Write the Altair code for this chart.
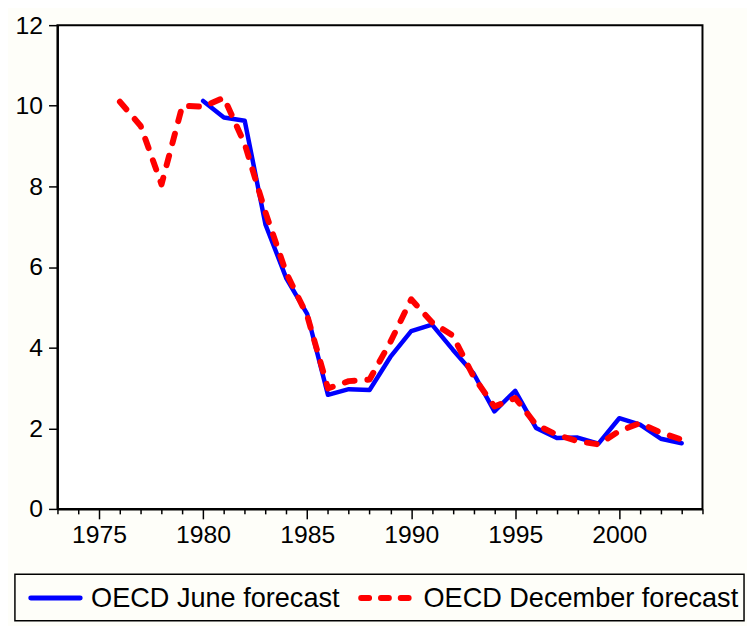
import altair as alt
import pandas as pd

years_june = list(range(1980, 2004))
june = [10.12, 9.71, 9.63, 7.05, 5.72, 4.84, 2.83, 2.97, 2.95, 3.77, 4.41, 4.57,
        3.95, 3.36, 2.42, 2.93, 2.01, 1.76, 1.77, 1.62, 2.25, 2.09, 1.74, 1.63]

years_dec = list(range(1976, 2004))
dec = [10.1, 9.5, 8.05, 10.0, 9.98, 10.2, 9.05, 7.35, 5.85, 4.8, 2.99, 3.17,
       3.21, 4.14, 5.2, 4.63, 4.3, 3.28, 2.54, 2.75, 2.09, 1.84, 1.68, 1.60,
       1.93, 2.13, 1.89, 1.72]

series = ["OECD June forecast", "OECD December forecast"]
colors = ["#0000FF", "#FF0000"]
x_ticks = list(range(1973, 2005))
y_ticks = [0, 2, 4, 6, 8, 10, 12]

df = pd.concat([
    pd.DataFrame({"year": years_june, "value": june, "series": series[0]}),
    pd.DataFrame({"year": years_dec, "value": dec, "series": series[1]}),
])

FONT = "Liberation Sans"

x_enc = alt.X(
    "year:Q",
    scale=alt.Scale(domain=[1973, 2004], nice=False, zero=False),
    axis=alt.Axis(
        title=None, values=x_ticks, format="d",
        labelExpr="datum.value % 5 === 0 ? datum.label : ''",
        tickSize={"condition": {"test": "datum.value % 5 === 0", "value": 10}, "value": 5},
        labelFontSize=25, labelFont=FONT, labelColor="black", labelPadding=4,
        tickColor="black", tickWidth=1.5, domainColor="black", domainWidth=2,
        grid=False, labelFlush=False, labelOverlap=False,
    ),
)
y_enc = alt.Y(
    "value:Q",
    scale=alt.Scale(domain=[0, 12], nice=False),
    axis=alt.Axis(
        title=None, values=y_ticks, tickSize=9, labelPadding=6,
        labelFontSize=25, labelFont=FONT, labelColor="black",
        tickColor="black", tickWidth=1.5, domainColor="black", domainWidth=2,
        grid=False, labelFlush=False,
    ),
)
color_enc = alt.Color("series:N", scale=alt.Scale(domain=series, range=colors), legend=None)

base = alt.Chart(df).encode(x=x_enc, y=y_enc, color=color_enc)

june_line = base.transform_filter(alt.datum.series == series[0]).mark_line(
    strokeWidth=4.5, strokeCap="round", strokeJoin="round")
dec_line = base.transform_filter(alt.datum.series == series[1]).mark_line(
    strokeWidth=6, strokeCap="round", strokeJoin="round", strokeDash=[10, 13])

# legend (drawn below the plot area)
leg_df = pd.DataFrame({"series": series})
leg_box = alt.Chart(leg_df.head(1)).mark_rect(
    filled=False, stroke="black", strokeWidth=1.5
).encode(x=alt.value(-43), x2=alt.value(694), y=alt.value(555), y2=alt.value(602))
leg_june = alt.Chart(leg_df.head(1)).mark_rule(
    color=colors[0], strokeWidth=5, strokeCap="round"
).encode(x=alt.value(-27), x2=alt.value(23), y=alt.value(579))
leg_dec = alt.Chart(leg_df.head(1)).mark_rule(
    color=colors[1], strokeWidth=6, strokeCap="round", strokeDash=[8, 12]
).encode(x=alt.value(307), x2=alt.value(357), y=alt.value(579))
leg_t1 = alt.Chart(leg_df.head(1)).mark_text(
    align="left", baseline="middle", fontSize=27.4, font=FONT, color="black"
).encode(x=alt.value(34), y=alt.value(580), text=alt.value(series[0]))
leg_t2 = alt.Chart(leg_df.head(1)).mark_text(
    align="left", baseline="middle", fontSize=27.4, font=FONT, color="black"
).encode(x=alt.value(370), y=alt.value(580), text=alt.value(series[1]))

chart = alt.layer(june_line, dec_line, leg_box, leg_june, leg_dec, leg_t1, leg_t2).properties(
    width=652, height=489,
    autosize=alt.AutoSizeParams(type="none"),
    padding={"left": 50, "top": 14, "right": 45, "bottom": 115},
    background="#FEFEF9",
).configure_view(
    stroke="black", strokeWidth=2, fill="white",
)

chart.save("out.html", embed_options={"renderer": "svg", "actions": False})
